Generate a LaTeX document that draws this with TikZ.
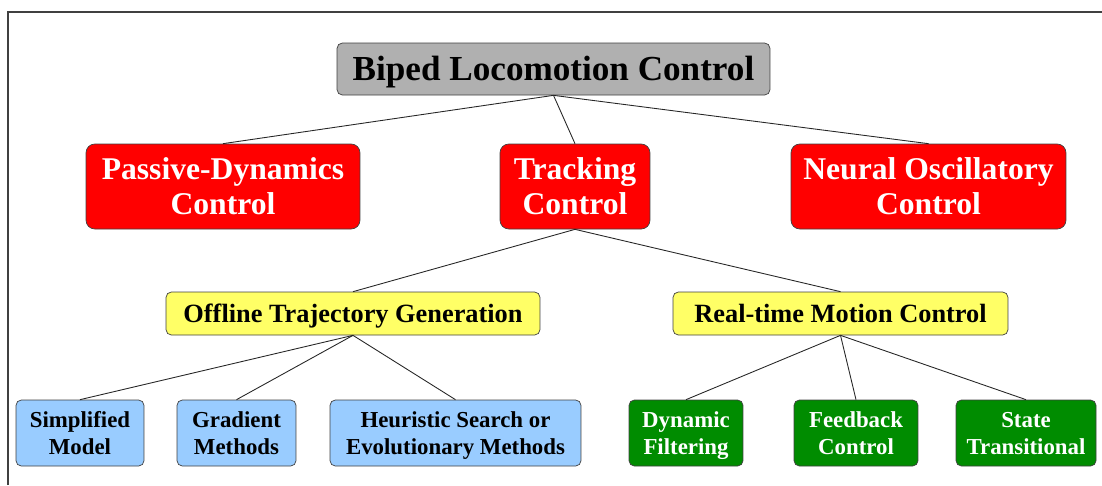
\documentclass[tikz,border=0pt]{standalone}
\usepackage{fontspec}
\setmainfont{Liberation Serif}
\definecolor{rootgray}{HTML}{B0B0B0}
\definecolor{topred}{HTML}{FF0000}
\definecolor{midyellow}{HTML}{FFFF66}
\definecolor{leafblue}{HTML}{99CCFF}
\definecolor{leafgreen}{HTML}{008C00}
\definecolor{framegray}{HTML}{404040}
\newcommand{\topstrut}{\rule{0pt}{\dimexpr0.7\baselineskip+0.22em\relax}}

\begin{document}
\begin{tikzpicture}[x=0.02cm, y=-0.02cm, thin,
  box/.style={draw=black!75, rounded corners=3pt, inner sep=0pt, align=center, font=\bfseries,
    execute at begin node=\topstrut, execute at end node=\strut},
  rootbox/.style={box, fill=rootgray, minimum height=1.04cm, font=\bfseries\fontsize{20}{22}\selectfont},
  redbox/.style={box, fill=topred, text=white, rounded corners=5pt, minimum height=1.7cm, font=\bfseries\fontsize{18}{20}\selectfont},
  yellowbox/.style={box, fill=midyellow, minimum height=0.86cm, font=\bfseries\fontsize{15}{17}\selectfont},
  bluebox/.style={box, fill=leafblue, minimum height=1.32cm, font=\bfseries\fontsize{13}{15.3}\selectfont},
  greenbox/.style={box, fill=leafgreen, text=white, minimum height=1.32cm, font=\bfseries\fontsize{13}{15.3}\selectfont},
  link/.style={draw=black!85, line width=0.5pt}]
  % 画布按像素设定: 1102 x 485, y 向下
  \useasboundingbox (0,0) rectangle (1102,485);
  \draw[framegray, line width=0.8pt] (8,485) -- (8,12) -- (1102,12);
  % 第一层
  \node[rootbox, minimum width=8.66cm] (root) at (553.5,69) {Biped Locomotion Control};
  % 第二层 (两行文字: 首行再加 \topstrut)
  \node[redbox, minimum width=5.48cm] (pdc) at (223,186.5) {\topstrut Passive-Dynamics\\Control};
  \node[redbox, minimum width=3.0cm] (tc) at (575,186.5) {\topstrut Tracking\\Control};
  \node[redbox, minimum width=5.5cm] (noc) at (928.5,186.5) {\topstrut Neural Oscillatory\\Control};
  % 第三层
  \node[yellowbox, minimum width=7.48cm] (otg) at (353,313.5) {Offline Trajectory Generation};
  \node[yellowbox, minimum width=6.7cm] (rmc) at (840.5,313.5) {Real-time Motion Control};
  % 第四层
  \node[bluebox, minimum width=2.56cm] (sm) at (80,433) {\topstrut Simplified\\Model};
  \node[bluebox, minimum width=2.38cm] (gm) at (236.5,433) {\topstrut Gradient\\Methods};
  \node[bluebox, minimum width=5.02cm] (hs) at (455.5,433) {\topstrut Heuristic Search or\\Evolutionary Methods};
  \node[greenbox, minimum width=2.28cm] (df) at (686,433) {\topstrut Dynamic\\Filtering};
  \node[greenbox, minimum width=2.48cm] (fc) at (856,433) {\topstrut Feedback\\Control};
  \node[greenbox, minimum width=2.8cm] (st) at (1026,433) {\topstrut State\\Transitional};
  % 连线
  \draw[link] (root.south) -- (pdc.north);
  \draw[link] (root.south) -- (tc.north);
  \draw[link] (root.south) -- (noc.north);
  \draw[link] (tc.south) -- (otg.north);
  \draw[link] (tc.south) -- (rmc.north);
  \draw[link] (otg.south) -- (sm.north);
  \draw[link] (otg.south) -- (gm.north);
  \draw[link] (otg.south) -- (hs.north);
  \draw[link] (rmc.south) -- (df.north);
  \draw[link] (rmc.south) -- (fc.north);
  \draw[link] (rmc.south) -- (st.north);
\end{tikzpicture}
\end{document}
